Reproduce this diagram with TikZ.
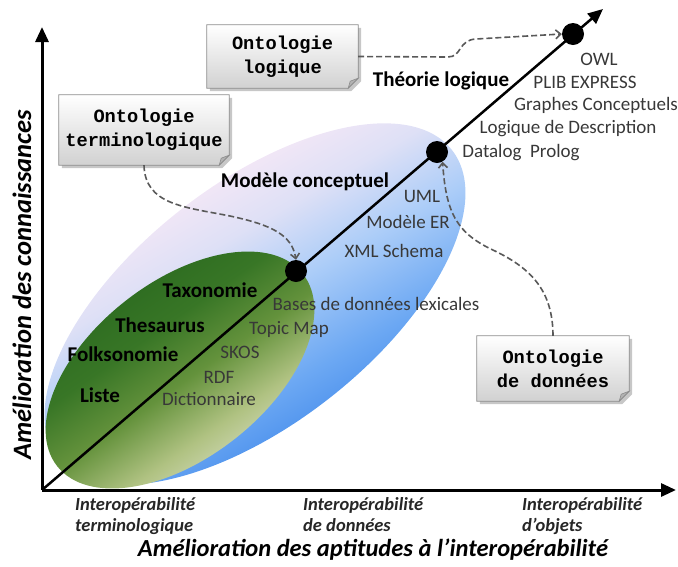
\documentclass[tikz,border=0pt]{standalone}
\usepackage{fontspec}
\setmainfont{Carlito}
\newfontfamily\calloutfont{Liberation Mono}
\usetikzlibrary{arrows.meta}
\pgfdeclarelayer{bg}
\pgfdeclarelayer{mid}
\pgfsetlayers{bg,mid,main}

% colour ramps for the two regions (bounding box spans 25bp..75bp)
\pgfdeclareverticalshading{conceptramp}{100bp}{
  color(0bp)=(rgb,255:red,60;green,132;blue,234);
  color(25bp)=(rgb,255:red,60;green,132;blue,234);
  color(33bp)=(rgb,255:red,72;green,142;blue,236);
  color(40bp)=(rgb,255:red,108;green,168;blue,243);
  color(50bp)=(rgb,255:red,172;green,205;blue,248);
  color(58bp)=(rgb,255:red,222;green,224;blue,246);
  color(66bp)=(rgb,255:red,246;green,232;blue,246);
  color(100bp)=(rgb,255:red,246;green,232;blue,246)}
\pgfdeclareverticalshading{termramp}{100bp}{
  color(0bp)=(rgb,255:red,234;green,235;blue,224);
  color(25bp)=(rgb,255:red,234;green,235;blue,224);
  color(38bp)=(rgb,255:red,176;green,194;blue,130);
  color(48bp)=(rgb,255:red,100;green,146;blue,60);
  color(58bp)=(rgb,255:red,56;green,118;blue,38);
  color(75bp)=(rgb,255:red,36;green,100;blue,28);
  color(100bp)=(rgb,255:red,36;green,100;blue,28)}

% note box with folded lower-right corner, drawn behind a node
\newcommand\notebox[1]{%
  \begin{pgfonlayer}{mid}
    \fill[black,opacity=.22]
      ([xshift=3pt,yshift=-3pt]#1.north west) -- ([xshift=3pt,yshift=-3pt]#1.north east)
      -- ([xshift=3pt,yshift=7pt]#1.south east) -- ([xshift=-7pt,yshift=-3pt]#1.south east)
      -- ([xshift=3pt,yshift=-3pt]#1.south west) -- cycle;
    \shade[top color=white, bottom color=black!18, draw=black!45, line width=.8pt]
      (#1.north west) -- (#1.north east) -- ([yshift=10pt]#1.south east)
      -- ([xshift=-10pt]#1.south east) -- (#1.south west) -- cycle;
    \filldraw[fill=black!30, draw=black!45, line width=.6pt]
      ([yshift=10pt]#1.south east) -- ([xshift=-8pt,yshift=7pt]#1.south east)
      -- ([xshift=-10pt]#1.south east) -- cycle;
  \end{pgfonlayer}}

\begin{document}
\begin{tikzpicture}[x=1pt,y=-1pt,
  lbl/.style={font=\fontsize{19}{21}\selectfont, text=black!78, inner sep=0pt},
  blbl/.style={font=\fontsize{21}{23}\selectfont\bfseries, inner sep=0pt},
  axlbl/.style={font=\fontsize{24.5}{27}\selectfont\bfseries\itshape, inner sep=0pt},
  lvl/.style={font=\fontsize{18.5}{21.5}\selectfont\bfseries\itshape, align=left,
    anchor=north west, inner sep=0pt, text=black!85},
  callout/.style={font=\calloutfont\bfseries\fontsize{18.7}{24}\selectfont,
    align=center, inner sep=0pt},
  dot/.style={circle, fill=black, minimum size=22pt, inner sep=0pt},
  axisline/.style={line width=3pt, -{Triangle[length=15pt,width=13pt]}},
  link/.style={dash pattern=on 6pt off 3pt, line width=1.6pt, draw=black!65,
    -{Straight Barb[length=5pt,width=9pt]}}
]
\useasboundingbox (0,0) rectangle (678,566);

% regions: conceptual-model ellipse and terminology ellipse
\begin{pgfonlayer}{bg}
  \begin{scope}[shift={(255,304)}, rotate=38]
    \shade[shading=conceptramp, shading angle=30]
      (0,0) ellipse [x radius=250, y radius=120];
  \end{scope}
  \begin{scope}[shift={(180,370)}, rotate=38]
    \shade[shading=termramp, shading angle=35]
      (0,0) ellipse [x radius=156, y radius=88];
  \end{scope}
\end{pgfonlayer}

% axes and main diagonal
\coordinate (O) at (42,490);
\coordinate (ytip) at (42,27);
\coordinate (xtip) at (676,490);
\coordinate (dtip) at (603,9);
\draw[axisline] (O) -- (ytip);
\draw[axisline] (O) -- (xtip);
\draw[line width=2.5pt, -{Triangle[length=15pt,width=13pt]}] (O) -- (dtip);

\node[dot] (c1) at (296,271) {};
\node[dot] (c2) at (437,152) {};
\node[dot] (c3) at (573,34) {};

% note boxes
\node[callout, minimum width=151pt, minimum height=63pt] (b1) at (282.5,56.5) {Ontologie\\logique};
\node[callout, minimum width=170pt, minimum height=70pt] (b2) at (144,130) {Ontologie\\terminologique};
\node[callout, minimum width=152pt, minimum height=65pt] (b3) at (553,368.5) {Ontologie\\de donn\'ees};
\notebox{b1}\notebox{b2}\notebox{b3}

% dashed links
\draw[link] (b1.east) -- (448,57) .. controls (462,57) and (458,40) .. (476,39) -- (c3.west);
\draw[link] (b2.south) .. controls (145,205) and (185,207) .. (230,216)
  .. controls (272,225) and (292,235) .. (c1.north);
\draw[link] (b3.north) .. controls (553,290) and (530,268) .. (495,251)
  .. controls (458,234) and (446,215) .. (c2.-60);

% labels
\node[blbl] (tl) at (441,81) {Théorie logique};
\node[lbl] (owl) at (599,59) {OWL};
\node[lbl] (plib) at (585,82) {PLIB EXPRESS};
\node[lbl] (gc) at (596,105) {Graphes Conceptuels};
\node[lbl] (ld) at (568,129) {Logique de Description};
\node[lbl] (dp) at (521,153) {Datalog\ \ Prolog};
\node[blbl] (mc) at (305,182) {Modèle conceptuel};
\node[lbl] (uml) at (422,196) {UML};
\node[lbl] (mer) at (408,222) {Modèle ER};
\node[lbl] (xml) at (394,251) {XML Schema};
\node[lbl] (bdl) at (376,304) {Bases de données lexicales};
\node[blbl] (tax) at (210,290) {Taxonomie};
\node[lbl] (tm) at (289,329) {Topic Map};
\node[blbl] (thes) at (160,325) {Thesaurus};
\node[blbl] (folk) at (123,354) {Folksonomie};
\node[lbl] (skos) at (240,352) {SKOS};
\node[lbl] (rdf) at (219,377) {RDF};
\node[blbl] (liste) at (100,395) {Liste};
\node[lbl] (dict) at (209,399) {Dictionnaire};

% axis captions
\node[axlbl, rotate=90, font=\fontsize{26.5}{29}\selectfont\bfseries\itshape] (yl) at (22,285) {Amélioration des connaissances};
\node[axlbl] (xl) at (373,550) {Amélioration des aptitudes à l’interopérabilité};
\node[lvl] (i1) at (75,497) {Interopérabilité\\terminologique};
\node[lvl] (i2) at (303,497) {Interopérabilité\\de données};
\node[lvl] (i3) at (522,497) {Interopérabilité\\d’objets};
\end{tikzpicture}
\end{document}
